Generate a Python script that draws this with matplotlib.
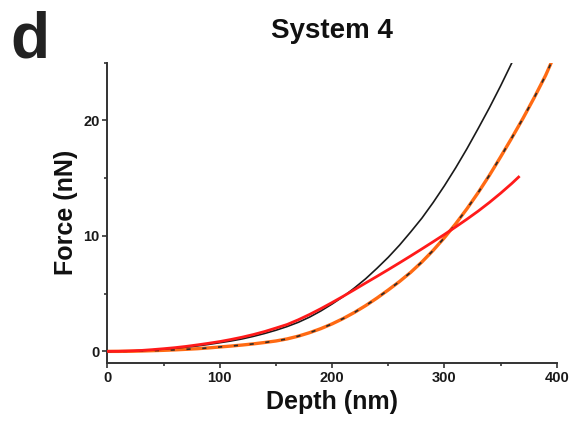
import matplotlib
matplotlib.use("Agg")
import matplotlib.pyplot as plt
from matplotlib.ticker import MultipleLocator

plt.rcParams['font.family'] = ['Liberation Sans', 'DejaVu Sans']
plt.rcParams['font.weight'] = 'bold'

# Data
depth_black = [0, 10, 20, 30, 40, 50, 60, 70, 80, 90, 100, 110, 120, 130, 140, 150,
               160, 170, 180, 190, 200, 210, 220, 230, 240, 250, 260, 270, 280, 290,
               300, 310, 320, 330, 340, 350, 360]
force_black = [0, 0.01, 0.03, 0.07, 0.13, 0.2, 0.28, 0.37, 0.47, 0.6, 0.75, 0.9, 1.08,
               1.3, 1.55, 1.83, 2.15, 2.52, 2.97, 3.5, 4.1, 4.75, 5.5, 6.3, 7.2, 8.15,
               9.2, 10.35, 11.55, 12.9, 14.35, 15.9, 17.55, 19.3, 21.1, 23.0, 25.0]

depth_orange = [0, 10, 20, 30, 40, 50, 60, 70, 80, 90, 100, 110, 120, 130, 140, 150,
                160, 170, 180, 190, 200, 210, 220, 230, 240, 250, 260, 270, 280, 290,
                300, 310, 320, 330, 340, 350, 360, 370, 380, 390, 395]
force_orange = [0, 0.0, 0.01, 0.03, 0.06, 0.09, 0.13, 0.18, 0.23, 0.3, 0.38, 0.46, 0.55,
                0.65, 0.77, 0.9, 1.08, 1.32, 1.62, 1.97, 2.38, 2.85, 3.38, 3.97, 4.62,
                5.32, 6.05, 6.85, 7.75, 8.75, 9.85, 11.05, 12.35, 13.75, 15.25, 16.85,
                18.5, 20.2, 22.0, 23.9, 25.0]

depth_red = [0, 10, 20, 30, 40, 50, 60, 70, 80, 90, 100, 110, 120, 130, 140, 150,
             160, 170, 180, 190, 200, 210, 220, 230, 240, 250, 260, 270, 280, 290,
             300, 310, 320, 330, 340, 350, 360, 366]
force_red = [0, 0.01, 0.04, 0.08, 0.15, 0.23, 0.32, 0.43, 0.56, 0.7, 0.85, 1.03, 1.23,
             1.46, 1.72, 2.02, 2.33, 2.74, 3.2, 3.7, 4.23, 4.78, 5.35, 5.93, 6.5, 7.08,
             7.67, 8.27, 8.88, 9.5, 10.13, 10.78, 11.45, 12.15, 12.9, 13.7, 14.55, 15.1]

title = "System 4"
xlabel = "Depth (nm)"
ylabel = "Force (nN)"
panel = "d"

fig = plt.figure(figsize=(5.77, 4.30), dpi=100)
ax = fig.add_axes([0.186, 0.156, 0.779, 0.698])

ax.plot(depth_black, force_black, color='#1a1a1a', lw=1.2, zorder=3)
ax.plot(depth_orange, force_orange, color='#ff6a13', lw=2.4, zorder=2)
ax.plot(depth_orange, force_orange, color='#2a2a2a', lw=1.2, ls=(0, (2.5, 7)), zorder=2.5)
ax.plot(depth_red, force_red, color='#ff1a1a', lw=2.0, zorder=4)

ax.set_xlim(0, 400)
ax.set_ylim(-1, 25)
ax.xaxis.set_major_locator(MultipleLocator(100))
ax.xaxis.set_minor_locator(MultipleLocator(50))
ax.yaxis.set_major_locator(MultipleLocator(10))
ax.yaxis.set_minor_locator(MultipleLocator(5))

for s in ['top', 'right']:
    ax.spines[s].set_visible(False)
for s in ['left', 'bottom']:
    ax.spines[s].set_linewidth(1.4)
    ax.spines[s].set_color('#333333')

ax.tick_params(which='major', direction='out', length=3.5, width=1.2, color='#333333',
               labelsize=10.5, labelcolor='#1a1a1a', pad=2)
ax.tick_params(which='minor', direction='out', length=2.5, width=1.2, color='#333333')
for lab in ax.get_xticklabels() + ax.get_yticklabels():
    lab.set_fontweight('bold')

ax.set_xlabel(xlabel, fontsize=18, fontweight='bold', color='#111111', labelpad=4)
ax.set_ylabel(ylabel, fontsize=18, fontweight='bold', color='#111111', labelpad=4)
ax.set_title(title, fontsize=20, fontweight='bold', color='#111111', pad=18)

fig.text(0.018, 0.975, panel, fontsize=46, fontweight='bold', color='#222222',
         ha='left', va='top')

fig.savefig("out.png", dpi=100)
